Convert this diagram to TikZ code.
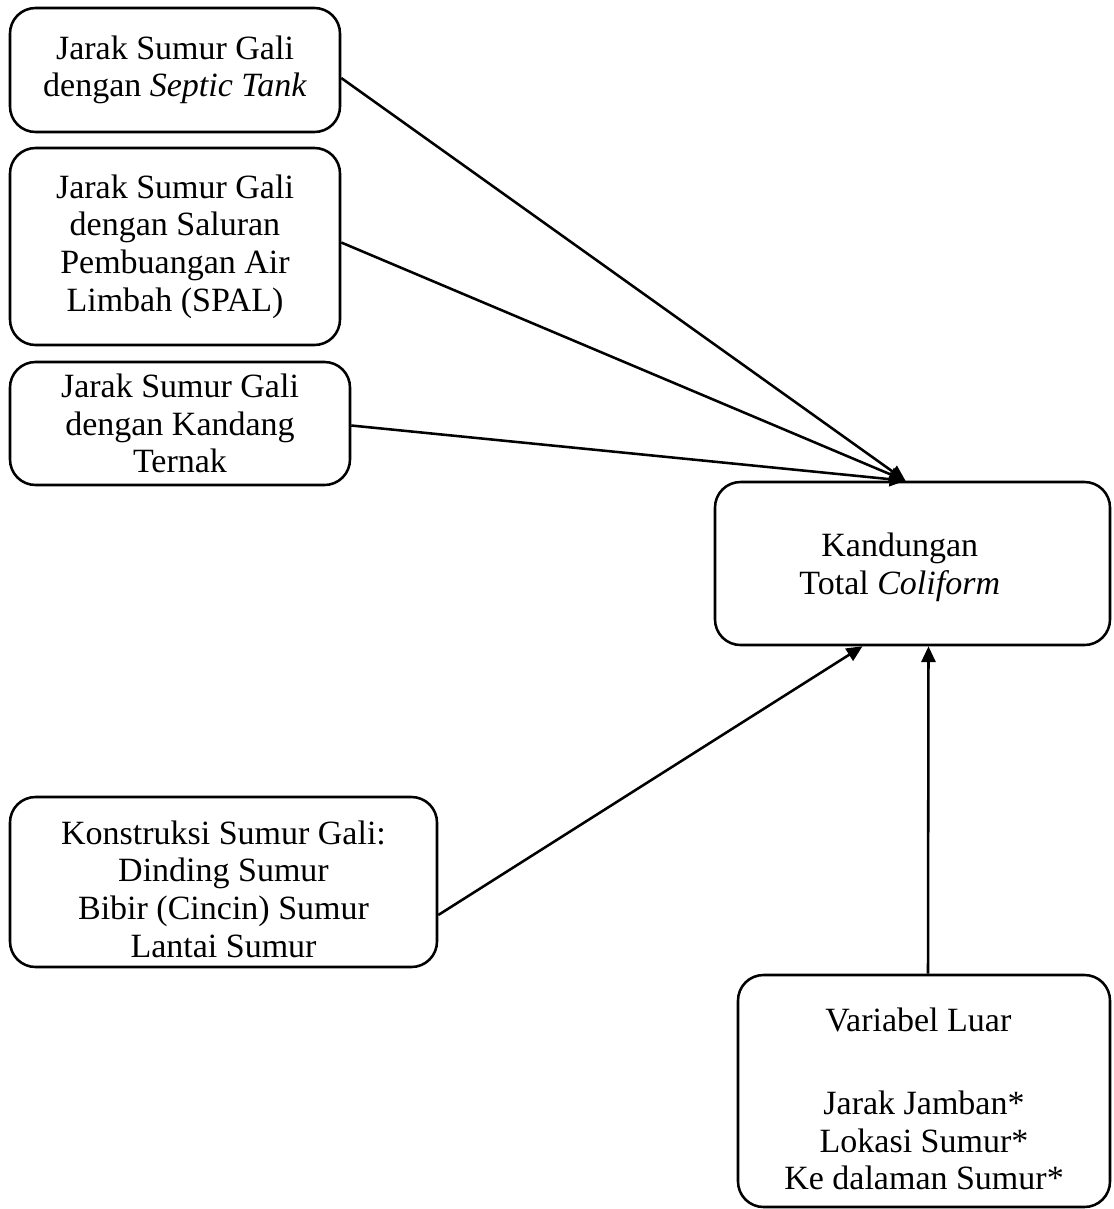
\documentclass[tikz,border=0pt]{standalone}
\usepackage{fontspec}
\setmainfont{Liberation Serif}
\usetikzlibrary{positioning}
\usetikzlibrary{calc,arrows.meta}

\newcommand{\pxu}{0.353pt}

\begin{document}
\begin{tikzpicture}[x=0.353pt,y=-0.353pt,
		box/.style={draw=black,line width=0.9pt,rounded corners=9pt,align=center,inner sep=0pt,font=\fontsize{12}{13.3}\selectfont},
		arr/.style={line width=0.9pt,-{Triangle[length=5.6pt,width=5pt]}}]
		\useasboundingbox (0,0) rectangle (1113,1209);
		
		\coordinate(S) at (175,70);
		\coordinate(P) at (175,246.5);
		\coordinate(K) at (180,423.5);
		\coordinate(T) at (912.5,563.5);
		\coordinate(B) at (223.5,882);
		\coordinate(V) at (924,1091);
		
		\draw (S) node[box,minimum width=330*\pxu,minimum height=124*\pxu] (septic) {Jarak Sumur Gali\\dengan \textit{Septic Tank}};
		\draw (P) node[box,minimum width=330*\pxu,minimum height=197*\pxu] (spal) {Jarak Sumur Gali\\dengan Saluran\\Pembuangan Air\\Limbah (SPAL)};
		\draw (K) node[box,minimum width=340*\pxu,minimum height=123*\pxu] (kandang) {Jarak Sumur Gali\\dengan Kandang\\Ternak};
		\draw (T) node[box,minimum width=395*\pxu,minimum height=163*\pxu] (coliform) {\rule{0pt}{11pt}Kandungan\hspace*{9pt}\\Total \textit{Coliform}\hspace*{9pt}};
		\draw (B) node[box,minimum width=427*\pxu,minimum height=170*\pxu] (konstruksi) {\rule{0pt}{13.2pt}Konstruksi Sumur Gali:\\Dinding Sumur\\Bibir (Cincin) Sumur\\Lantai Sumur};
		\draw (V) node[box,minimum width=372*\pxu,minimum height=232*\pxu] (luar) {\rule{0pt}{13.8pt}Variabel Luar\hspace*{4pt}\\[16.1pt]Jarak Jamban*\\Lokasi Sumur*\\Ke dalaman Sumur*};
		
		% Draw arrows into the outcome box
		\coordinate(top) at ($(coliform.north)+(-7,0)$);
		\coordinate(bot) at ($(coliform.south)+(-50,0)$);
		\draw[arr] ($(septic.east)+(0,8)$) -- (top);
		\draw[arr] ($(spal.east)+(0,-4)$) -- (top);
		\draw[arr] ($(kandang.east)+(0,2)$) -- (top);
		\draw[arr] ($(konstruksi.east)+(0,33)$) -- (bot);
		\draw[arr] ($(luar.north)+(4,0)$) -- ($(coliform.south)+(16,0)$);
	\end{tikzpicture}
\end{document}
